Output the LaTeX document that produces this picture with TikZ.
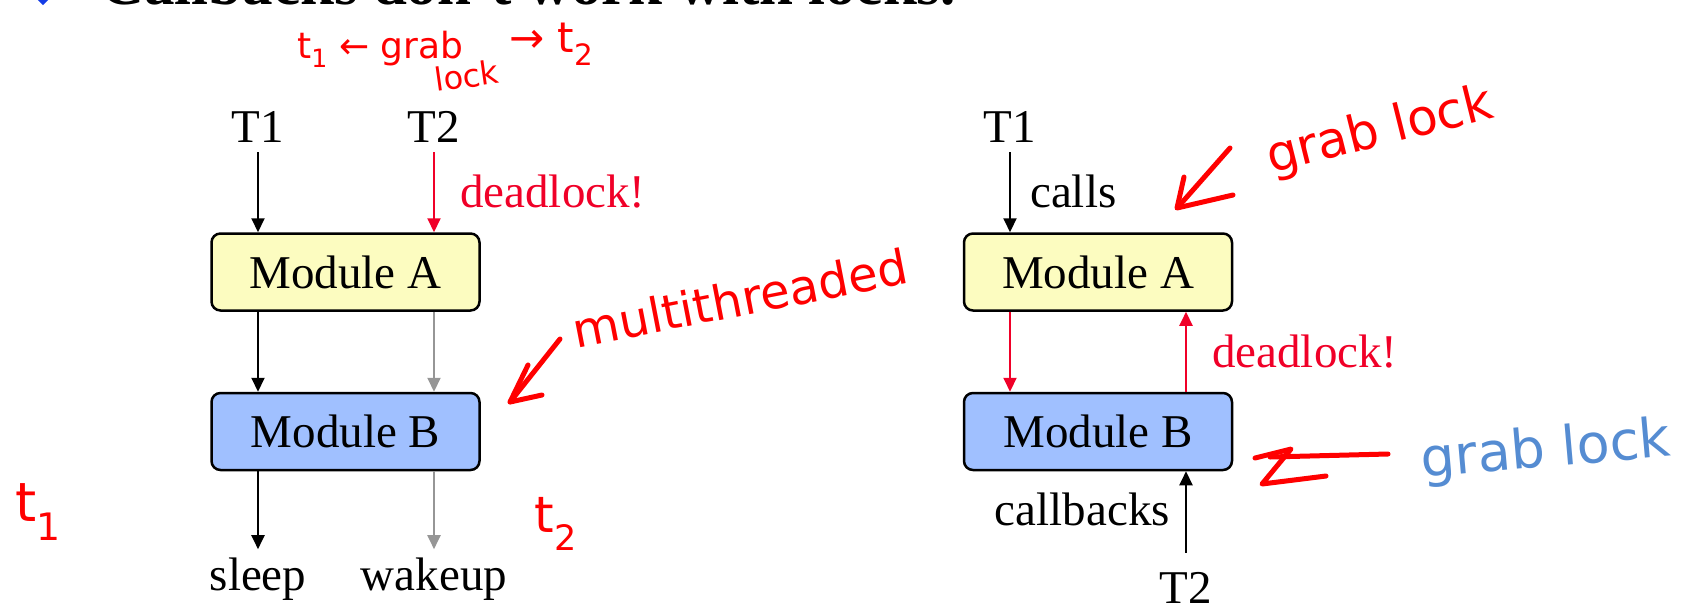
\documentclass[tikz,border=0pt]{standalone}
\usepackage{fontspec}
\setmainfont{Liberation Serif}
\newfontfamily\hand{DejaVu Sans}
\usetikzlibrary{arrows.meta,calc}
\definecolor{boxyellow}{RGB}{252,252,192}
\definecolor{boxblue}{RGB}{160,192,255}
\definecolor{dlred}{RGB}{240,0,40}
\definecolor{arrgray}{RGB}{150,150,150}
\definecolor{inkred}{RGB}{255,0,0}
\definecolor{inkblue}{RGB}{85,140,210}
\definecolor{bulletblue}{RGB}{20,60,230}
\tikzset{
  module/.style={draw=black, line width=2.5pt, rounded corners=9pt, minimum width=268pt, minimum height=77pt, inner sep=0pt, font=\fontsize{47}{56}\selectfont},
  lbl/.style={inner sep=0pt, font=\fontsize{47}{56}\selectfont},
  flow/.style={line width=2pt, -{Triangle[length=14pt,width=13pt]}},
  hand/.style={inner sep=0pt, text=inkred},
  ink/.style={draw=inkred, line width=5pt, line cap=round, line join=round},
}
\begin{document}
\begin{tikzpicture}[x=1pt,y=-1pt]
\useasboundingbox (0,0) rectangle (1693,606);
% title (cut off at the top)
\fill[bulletblue] (43,-12) -- (51,-3) -- (43,5) -- (35,-3) -- cycle;
\node[anchor=base west, inner sep=0pt, font=\fontsize{61}{70}\selectfont\bfseries] (title) at (100,4) {Callbacks don't work with locks.};

% left diagram
\node[module, fill=boxyellow] (A1) at (345.5,272) {Module A};
\node[module, fill=boxblue] (B1) at (345.5,431.5) {Module B};
\node[lbl, anchor=base] (T1a) at (258,142) {T1};
\node[lbl, anchor=base] (T2a) at (434,142) {T2};
\node[lbl, anchor=base] (sleep) at (258,590) {sleep};
\node[lbl, anchor=base] (wake) at (434,590) {wakeup};
\node[lbl, anchor=base west, text=dlred] (dl1) at (460,207) {deadlock!};
\draw[flow, shorten <=10pt] (T1a.south) -- (T1a.south |- A1.north);
\draw[flow, dlred, shorten <=10pt] (T2a.south) -- (T2a.south |- A1.north);
\draw[flow] (T1a.south |- A1.south) -- (T1a.south |- B1.north);
\draw[flow, arrgray] (T2a.south |- A1.south) -- (T2a.south |- B1.north);
\draw[flow, shorten >=8pt] (sleep.north |- B1.south) -- (sleep.north);
\draw[flow, arrgray, shorten >=8pt] (wake.north |- B1.south) -- (wake.north);

% right diagram
\node[module, fill=boxyellow] (A2) at (1098,272) {Module A};
\node[module, fill=boxblue] (B2) at (1098,431.5) {Module B};
\node[lbl, anchor=base] (T1b) at (1010,142) {T1};
\node[lbl, anchor=base west] (calls) at (1030,207) {calls};
\node[lbl, anchor=base west, text=dlred] (dl2) at (1212,367) {deadlock!};
\node[lbl, anchor=base east] (cb) at (1170,525) {callbacks};
\node[lbl, anchor=base] (T2b) at (1186,603) {T2};
\draw[flow, shorten <=10pt] (T1b.south) -- (T1b.south |- A2.north);
\draw[flow, dlred] (T1b.south |- A2.south) -- (T1b.south |- B2.north);
\draw[flow, dlred] (T2b.north |- B2.north) -- (T2b.north |- A2.south);
\draw[flow, shorten <=19pt] (T2b.north) -- (T2b.north |- B2.south);

% handwritten annotations
\node[hand, font=\hand\fontsize{36}{40}\selectfont, anchor=base west] (h1) at (297,58) {t\textsubscript{1} ← grab};
\node[hand, font=\hand\fontsize{32}{36}\selectfont, anchor=base west, rotate=8] (h2) at (436,92) {lock};
\node[hand, font=\hand\fontsize{42}{46}\selectfont, anchor=base west] (h3) at (509,52) {→ t\textsubscript{2}};
\node[hand, font=\hand\fontsize{48}{50}\selectfont, rotate=11] (h4) at (740,298) {multithreaded};
\node[hand, font=\hand\fontsize{50}{52}\selectfont, rotate=14] (h5) at (1380,132) {grab lock};
\node[hand, text=inkblue, font=\hand\fontsize{54}{56}\selectfont, rotate=5] (h6) at (1546,452) {grab lock};
\node[hand, font=\hand\fontsize{54}{56}\selectfont] (h7) at (38,512) {t\textsubscript{1}};
\node[hand, font=\hand\fontsize{50}{52}\selectfont] (h8) at (556,524) {t\textsubscript{2}};

\draw[ink] (560,339) -- (510,402);
\draw[ink] (528,365) -- (510,402) -- (542,395);
\draw[ink] (1230,148) -- (1178,207);
\draw[ink] (1184,177) -- (1177,208) -- (1233,195);
\draw[ink] (1270,457) -- (1388,454);
\draw[ink] (1255,458) -- (1291,449) -- (1262,484) -- (1326,476);
\end{tikzpicture}
\end{document}
